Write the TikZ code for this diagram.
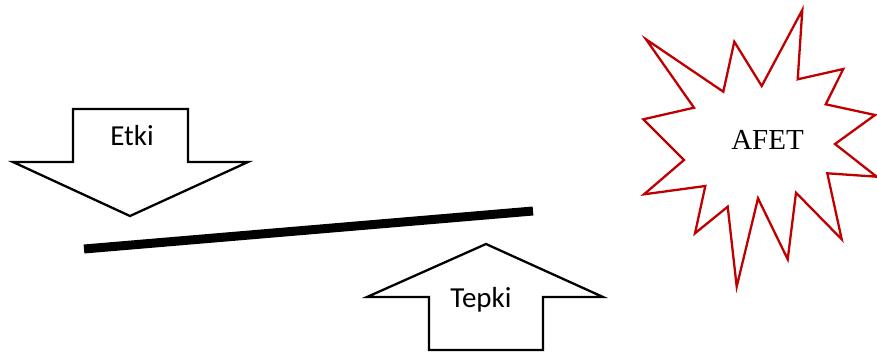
\documentclass[tikz,border=0pt]{standalone}
\usepackage{fontspec}
\setmainfont{Liberation Serif}
\newfontfamily\calib{Carlito}
\definecolor{starred}{HTML}{C00000}
\begin{document}
\begin{tikzpicture}[x=1pt,y=-1pt,
  outline/.style={draw=black,line width=2.3pt,line join=miter,fill=white},
  starline/.style={draw=starred,line width=2.3pt,line join=miter,fill=white},
  lbl/.style={font=\calib\fontsize{29}{34}\selectfont,inner sep=0pt},
  afetlbl/.style={font=\fontsize{29}{34}\selectfont,inner sep=0pt}]
\useasboundingbox (0,0) rectangle (877,354);
% Etki arrow (down)
\draw[outline] (73,109) -- (188,109) -- (188,162) -- (248,162) -- (130,216) -- (13,162) -- (73,162) -- cycle;
\node[lbl] (etki) at (132,136) {Etki};
% thick bar
\coordinate (barL) at (84,249);
\coordinate (barR) at (533,211);
\draw[line width=9pt] (barL) -- (barR);
% Tepki arrow (up)
\draw[outline] (429,350) -- (543,350) -- (543,297) -- (603,297) -- (486,244) -- (367,297) -- (429,297) -- cycle;
\node[lbl] (tepki) at (481,300) {Tepki};
% star
\draw[starline] (802.3,10) -- (797.7,79.3) -- (843.3,69) -- (825.7,104.3) -- (875,115) -- (835,144) -- (876.7,176.7) -- (827.3,173.3) -- (841.7,239.3) -- (796,192.7) -- (787.7,259.3) -- (758,198.3) -- (736.7,286.7) -- (727.7,206.7) -- (695,233.3) -- (705.3,186) -- (644,194.3) -- (684,160) -- (643.3,119.3) -- (694,107.7) -- (646,39.3) -- (723.3,91.7) -- (734.3,41.7) -- (761.7,86) -- cycle;
\node[afetlbl] (afet) at (767.5,140) {AFET};
\end{tikzpicture}
\end{document}
